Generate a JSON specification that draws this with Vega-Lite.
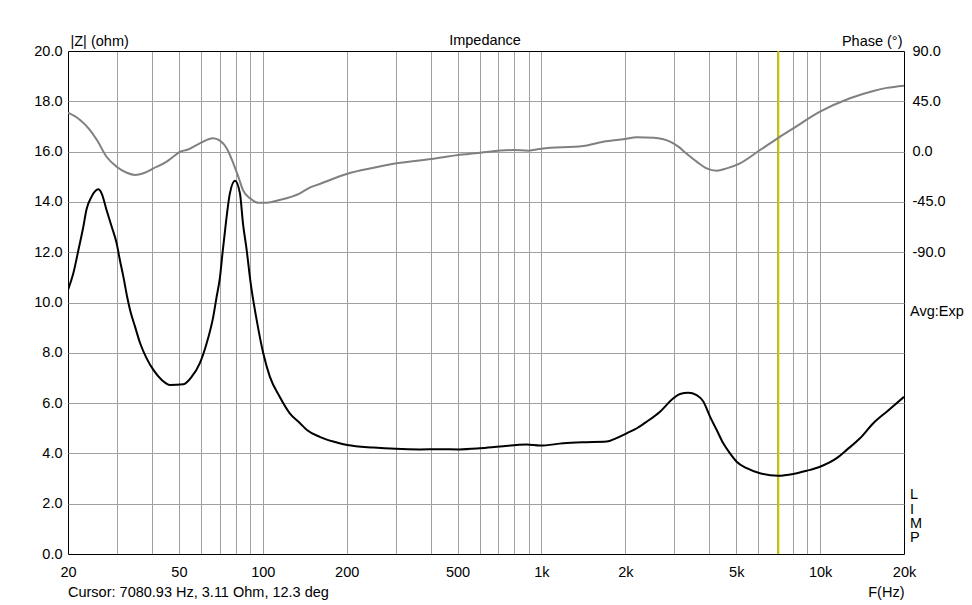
{
  "$schema": "https://vega.github.io/schema/vega-lite/v6.json",
  "width": 836,
  "height": 503,
  "autosize": "none",
  "padding": {"left": 68, "top": 51, "right": 68, "bottom": 51},
  "background": "white",
  "datasets": {
    "imp": [
      {"f": 20, "z": 10.5}, {"f": 20.9, "z": 11.16}, {"f": 21.8, "z": 12.09}, {"f": 22.7, "z": 13.01}, {"f": 23.3, "z": 13.7},
      {"f": 24.3, "z": 14.21}, {"f": 25.7, "z": 14.5}, {"f": 26.4, "z": 14.34}, {"f": 27.5, "z": 13.68}, {"f": 28.7, "z": 13.01},
      {"f": 29.9, "z": 12.35}, {"f": 30.7, "z": 11.69}, {"f": 31.6, "z": 11.03}, {"f": 32.6, "z": 10.23}, {"f": 33.4, "z": 9.7},
      {"f": 34.8, "z": 9.04}, {"f": 36.3, "z": 8.38}, {"f": 38.3, "z": 7.78}, {"f": 40.5, "z": 7.32}, {"f": 43.4, "z": 6.92},
      {"f": 46.5, "z": 6.72}, {"f": 51.9, "z": 6.75}, {"f": 55.6, "z": 7.05}, {"f": 59.4, "z": 7.58}, {"f": 62.9, "z": 8.38},
      {"f": 66.4, "z": 9.43}, {"f": 68.3, "z": 10.23}, {"f": 70.2, "z": 11.0}, {"f": 71.6, "z": 11.9}, {"f": 73.7, "z": 13.15},
      {"f": 76.2, "z": 14.34}, {"f": 79.5, "z": 14.84}, {"f": 82.8, "z": 14.34}, {"f": 84.9, "z": 13.15}, {"f": 87.5, "z": 12.1},
      {"f": 90.5, "z": 10.76}, {"f": 95.1, "z": 9.3}, {"f": 100.4, "z": 7.98}, {"f": 106, "z": 7.05}, {"f": 115, "z": 6.25},
      {"f": 125, "z": 5.59}, {"f": 136, "z": 5.2}, {"f": 144, "z": 4.93}, {"f": 160, "z": 4.66}, {"f": 179, "z": 4.47},
      {"f": 201, "z": 4.33}, {"f": 250, "z": 4.23}, {"f": 300, "z": 4.18}, {"f": 366, "z": 4.16}, {"f": 430, "z": 4.17},
      {"f": 506, "z": 4.16}, {"f": 600, "z": 4.2}, {"f": 710, "z": 4.27},
      {"f": 885, "z": 4.35}, {"f": 988, "z": 4.31}, {"f": 1198, "z": 4.4}, {"f": 1400, "z": 4.44}, {"f": 1714, "z": 4.47},
      {"f": 1850, "z": 4.6}, {"f": 2022, "z": 4.8}, {"f": 2200, "z": 5.0}, {"f": 2386, "z": 5.26}, {"f": 2664, "z": 5.66},
      {"f": 2974, "z": 6.19}, {"f": 3142, "z": 6.36}, {"f": 3365, "z": 6.41}, {"f": 3606, "z": 6.32}, {"f": 3810, "z": 6.06},
      {"f": 4026, "z": 5.46}, {"f": 4256, "z": 4.93}, {"f": 4493, "z": 4.4}, {"f": 4750, "z": 4.0}, {"f": 5018, "z": 3.67},
      {"f": 5452, "z": 3.41}, {"f": 6085, "z": 3.21}, {"f": 7081, "z": 3.11}, {"f": 8010, "z": 3.18}, {"f": 8950, "z": 3.31},
      {"f": 9990, "z": 3.47}, {"f": 11470, "z": 3.81}, {"f": 12460, "z": 4.14}, {"f": 13900, "z": 4.6}, {"f": 15520, "z": 5.2},
      {"f": 17340, "z": 5.66}, {"f": 20000, "z": 6.25}
    ],
    "phase": [
      {"f": 20, "phase": 34.8}, {"f": 22.1, "phase": 28.3}, {"f": 23.7, "phase": 20.8}, {"f": 25.4, "phase": 10.4}, {"f": 27.5, "phase": -4.6},
      {"f": 29.9, "phase": -13.5}, {"f": 32.5, "phase": -18.9}, {"f": 34.8, "phase": -20.9}, {"f": 37.3, "phase": -19.4}, {"f": 40.5, "phase": -15},
      {"f": 45.2, "phase": -9}, {"f": 47.7, "phase": -4.6}, {"f": 50.5, "phase": 0}, {"f": 53.3, "phase": 1.4}, {"f": 59.4, "phase": 7.4},
      {"f": 66.4, "phase": 11.9}, {"f": 70.2, "phase": 9.8}, {"f": 74.2, "phase": 3}, {"f": 78.4, "phase": -10.5}, {"f": 81.7, "phase": -22.5},
      {"f": 84.9, "phase": -34.4}, {"f": 90, "phase": -41.8}, {"f": 96.4, "phase": -45.7}, {"f": 103, "phase": -45.7}, {"f": 115, "phase": -43.3},
      {"f": 136, "phase": -37.3}, {"f": 148, "phase": -32}, {"f": 160, "phase": -29}, {"f": 200, "phase": -20}, {"f": 250, "phase": -14.5},
      {"f": 302, "phase": -10.5}, {"f": 403, "phase": -6.6}, {"f": 503, "phase": -3}, {"f": 602, "phase": -1}, {"f": 793, "phase": 1.4},
      {"f": 897, "phase": 0.8}, {"f": 1000, "phase": 2.6}, {"f": 1413, "phase": 5}, {"f": 1667, "phase": 8.9}, {"f": 1994, "phase": 11.3},
      {"f": 2197, "phase": 12.8}, {"f": 2530, "phase": 12.4}, {"f": 2894, "phase": 8.9}, {"f": 3098, "phase": 4.4}, {"f": 3305, "phase": -1.5},
      {"f": 3606, "phase": -9}, {"f": 3917, "phase": -15}, {"f": 4256, "phase": -17.1}, {"f": 4621, "phase": -15}, {"f": 5158, "phase": -10.5},
      {"f": 6085, "phase": 1.4}, {"f": 7081, "phase": 12.3}, {"f": 8010, "phase": 20.8}, {"f": 9990, "phase": 35.7}, {"f": 12800, "phase": 47.7},
      {"f": 15520, "phase": 54.2}, {"f": 17340, "phase": 57}, {"f": 20000, "phase": 59}
    ],
    "cursor": [{"f": 7080.93}],
    "notes": [
      {"f": 627.5, "z": 20.22, "label": "Impedance", "kind": "title"},
      {"f": 20, "z": -1.71, "label": "Cursor: 7080.93 Hz, 3.11 Ohm, 12.3 deg", "kind": "cursor"},
      {"f": 20000, "z": 9.63, "label": "Avg:Exp", "kind": "avg"},
      {"f": 20000, "z": 2.17, "label": "L\nI\nM\nP", "kind": "limp"}
    ]
  },
  "encoding": {
    "x": {
      "field": "f",
      "type": "quantitative",
      "scale": {"type": "log", "domain": [20, 20000], "nice": false},
      "axis": {
        "values": [20, 30, 40, 50, 60, 70, 80, 90, 100, 200, 300, 400, 500, 600, 700, 800, 900, 1000, 2000, 3000, 4000, 5000, 6000, 7000, 8000, 9000, 10000, 20000],
        "labelExpr": "indexof([20,50,100,200,500,1000,2000,5000,10000,20000], datum.value) >= 0 ? (datum.value >= 1000 ? (datum.value/1000) + 'k' : '' + datum.value) : ''",
        "labelOverlap": false,
        "labelFlush": false,
        "labelBaseline": "alphabetic",
        "labelPadding": 22.5,
        "ticks": false,
        "domain": false,
        "grid": true,
        "gridColor": {"condition": {"test": "datum.value <= 20 || datum.value >= 20000", "value": "#000000"}, "value": "#a0a0a0"},
        "title": "F(Hz)",
        "titleX": 836,
        "titleY": 42,
        "titleAlign": "right",
        "titleBaseline": "alphabetic"
      }
    }
  },
  "layer": [
    {
      "data": {"name": "cursor"},
      "mark": {"type": "rule", "color": "#c8c800", "strokeWidth": 2},
      "encoding": {}
    },
    {
      "encoding": {
        "y": {
          "field": "z",
          "type": "quantitative",
          "scale": {"domain": [0, 20], "nice": false, "zero": false},
          "axis": {
            "orient": "left",
            "values": [0, 2, 4, 6, 8, 10, 12, 14, 16, 18, 20],
            "format": ".1f",
            "ticks": false,
            "domain": false,
            "grid": true,
            "gridColor": {"condition": {"test": "datum.value <= 0 || datum.value >= 20", "value": "#000000"}, "value": "#a0a0a0"},
            "labelPadding": 6,
            "title": "|Z| (ohm)",
            "titleAngle": 0,
            "titleX": 2,
            "titleY": -6,
            "titleAlign": "left",
            "titleBaseline": "alphabetic"
          }
        }
      },
      "layer": [
        {
          "data": {"name": "imp"},
          "mark": {"type": "line", "color": "#000000", "strokeWidth": 2, "interpolate": "monotone", "clip": true}
        },
        {
          "data": {"name": "notes"},
          "transform": [{"filter": "datum.kind == 'title'"}],
          "mark": {"type": "text", "align": "center", "baseline": "alphabetic"},
          "encoding": {"text": {"field": "label"}}
        },
        {
          "data": {"name": "notes"},
          "transform": [{"filter": "datum.kind == 'cursor'"}],
          "mark": {"type": "text", "align": "left", "baseline": "alphabetic"},
          "encoding": {"text": {"field": "label"}}
        },
        {
          "data": {"name": "notes"},
          "transform": [{"filter": "datum.kind == 'avg'"}],
          "mark": {"type": "text", "align": "left", "baseline": "middle", "dx": 6},
          "encoding": {"text": {"field": "label"}}
        },
        {
          "data": {"name": "notes"},
          "transform": [{"filter": "datum.kind == 'limp'"}],
          "mark": {"type": "text", "align": "left", "baseline": "alphabetic", "dx": 6, "lineBreak": "\n", "lineHeight": 14.1},
          "encoding": {"text": {"field": "label"}}
        }
      ]
    },
    {
      "data": {"name": "phase"},
      "mark": {"type": "line", "color": "#808080", "strokeWidth": 2, "interpolate": "monotone", "clip": true},
      "encoding": {
        "y": {
          "field": "phase",
          "type": "quantitative",
          "scale": {"domain": [-360, 90], "nice": false, "zero": false},
          "axis": {
            "orient": "right",
            "values": [90, 45, 0, -45, -90],
            "labelExpr": "replace(format(datum.value, '.1f'), '\u2212', '-')",
            "ticks": false,
            "domain": false,
            "grid": false,
            "labelPadding": 8,
            "title": "Phase (°)",
            "titleAngle": 0,
            "titleX": -2,
            "titleY": -6,
            "titleAlign": "right",
            "titleBaseline": "alphabetic"
          }
        }
      }
    }
  ],
  "resolve": {"scale": {"y": "independent"}, "axis": {"y": "independent"}},
  "config": {
    "font": "Liberation Sans",
    "view": {"stroke": null},
    "axis": {
      "labelFont": "Liberation Sans",
      "titleFont": "Liberation Sans",
      "labelFontSize": 14.5,
      "titleFontSize": 14.5,
      "labelColor": "#000000",
      "titleColor": "#000000",
      "titleFontWeight": "normal",
      "gridWidth": 1,
      "gridOpacity": 1
    },
    "text": {"font": "Liberation Sans", "fontSize": 14.5, "color": "#000000"}
  }
}
